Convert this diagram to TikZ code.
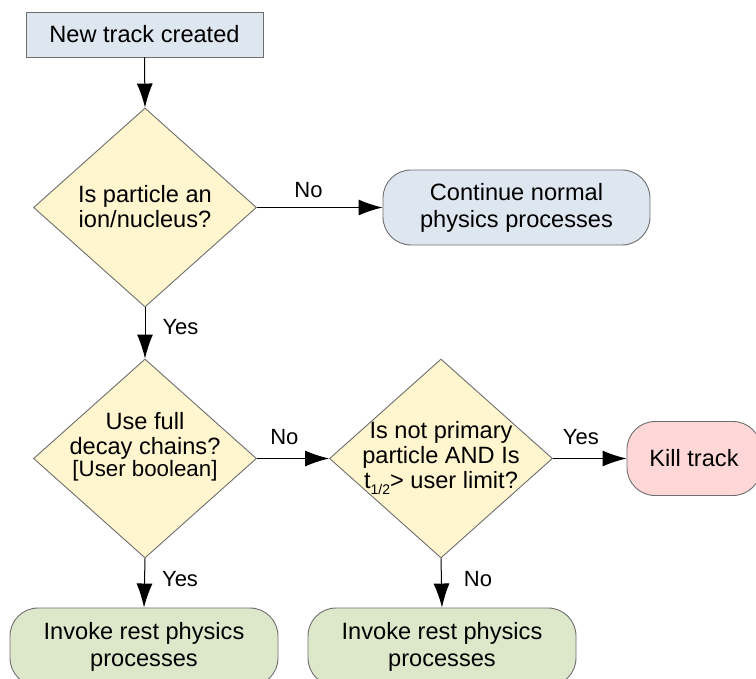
\documentclass[tikz,border=0pt]{standalone}
\usepackage{fontspec}
\setmainfont{Liberation Sans}
\usetikzlibrary{shapes.geometric,arrows.meta}
\definecolor{boxblue}{HTML}{DEE6EF}
\definecolor{dyellow}{HTML}{FFF5CE}
\definecolor{bgreen}{HTML}{DDE8CB}
\definecolor{bpink}{HTML}{FFD7D7}
\definecolor{edgegray}{HTML}{6E6E6E}
\tikzset{
  base/.style={draw=edgegray, line width=0.9pt, align=center, font=\fontsize{23.6}{27}\selectfont, inner sep=0pt},
  startbox/.style={base, rectangle, fill=boxblue, minimum width=237, minimum height=45},
  decision/.style={draw=edgegray, line width=0.9pt, diamond, fill=dyellow, minimum width=223, minimum height=199, inner sep=0pt},
  dtext/.style={align=center, font=\fontsize{23.6}{25}\selectfont, inner sep=0pt},
  endbox/.style={base, rectangle, rounded corners=28pt, minimum height=75},
  conn/.style={-{Latex[length=24pt,width=16pt]}, line width=1pt, black},
  lbl/.style={font=\fontsize{22}{26}\selectfont, inner sep=0pt}
}
\begin{document}
\begin{tikzpicture}[x=1pt,y=-1pt]
\clip (0,0) rectangle (756,679);
\fill[white] (0,0) rectangle (756,679);

\node[startbox] (start) at (144.5,34.5) {New track created};

\node[decision] (d1) at (145,207.5) {};
\node[dtext] (t1) at (145,207) {Is particle an\\ion/nucleus?};

\node[endbox, fill=boxblue, minimum width=267] (cont) at (516.5,207.5) {Continue normal\\physics processes};

\node[decision] (d2) at (145,458.5) {};
\node[dtext] (t2) at (145,447) {Use full\\decay chains?\\[-3pt]{\fontsize{22.3}{23}\selectfont [User boolean]}};

\node[decision] (d3) at (441,458.5) {};
\node[dtext] (t3) at (441,458) {Is not primary\\particle AND Is\\t\raisebox{-6pt}{\fontsize{14}{15}\selectfont 1/2}> user limit?};

\node[endbox, fill=bpink, minimum width=134, minimum height=74] (kill) at (694,458.5) {Kill track};

\node[endbox, fill=bgreen, minimum width=268, minimum height=78] (inv1) at (144,647) {Invoke rest physics\\processes};
\node[endbox, fill=bgreen, minimum width=268, minimum height=78] (inv2) at (442,647) {Invoke rest physics\\processes};

\draw[conn] (start.south) -- (d1.north);
\draw[conn] (d1.east) -- node[lbl, pos=0.41, above=9pt] {No} (cont.west);
\draw[conn] (d1.south) -- node[lbl, pos=0.38, right=17pt] {Yes} (d2.north);
\draw[conn] (d2.east) -- node[lbl, pos=0.38, above=13pt] {No} (d3.west);
\draw[conn] (d3.east) -- node[lbl, pos=0.38, above=13pt] {Yes} (kill.west);
\draw[conn] (d2.south) -- node[lbl, pos=0.42, right=17pt] {Yes} (inv1.north);
\draw[conn] (d3.south) -- node[lbl, pos=0.42, right=22pt] {No} (inv2.north);
\end{tikzpicture}
\end{document}
